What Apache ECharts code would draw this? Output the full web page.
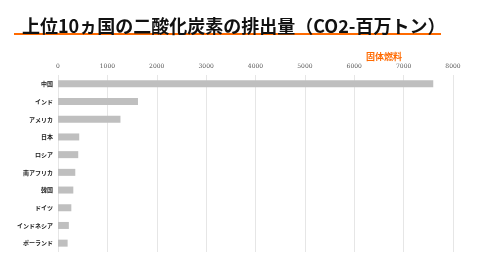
<!DOCTYPE html>
<html>
<head>
<meta charset="utf-8">
<script src="https://cdn.jsdelivr.net/npm/echarts@6/dist/echarts.min.js"></script>
<style>
  html, body { margin: 0; padding: 0; background: #fff; }
  #chart { width: 480px; height: 270px; }
</style>
</head>
<body>
<div id="chart"></div>
<script>
// 国名（上から順）
var countries = ['中国', 'インド', 'アメリカ', '日本', 'ロシア', '南アフリカ', '韓国', 'ドイツ', 'インドネシア', 'ポーランド'];
// 固体燃料 CO2排出量（百万トン）
var solidFuel = [7600, 1620, 1265, 430, 410, 350, 310, 270, 220, 195];
var seriesName = '固体燃料';

var chart = echarts.init(document.getElementById('chart'));
var option = {
  animation: false,
  title: {
    text: '上位10ヵ国の二酸化炭素の排出量（CO2-百万トン）',
    left: 17,
    top: 12,
    textStyle: {
      fontFamily: 'Noto Sans CJK JP',
      fontWeight: 'bold',
      fontSize: 18,
      color: '#111'
    }
  },
  graphic: [{
    type: 'rect',
    shape: { x: 14, y: 33, width: 427, height: 2 },
    style: { fill: '#ff6a00' }
  }],
  legend: {
    data: [{ name: seriesName, icon: 'none' }],
    left: 356,
    top: 45,
    itemWidth: 0,
    itemGap: 0,
    textStyle: {
      fontFamily: 'Noto Sans CJK JP',
      fontWeight: 'bold',
      fontSize: 9,
      color: '#ff6a00'
    }
  },
  grid: { left: 58, right: 27, top: 75, bottom: 18 },
  xAxis: {
    type: 'value',
    position: 'top',
    min: 0,
    max: 8000,
    interval: 1000,
    axisLine: { show: false },
    axisTick: { show: false },
    axisLabel: {
      margin: 6,
      fontSize: 6,
      fontFamily: 'DejaVu Serif',
      color: '#555',
      formatter: function (v) { return String(v); }
    },
    splitLine: { lineStyle: { color: '#e6e6e6', width: 1 } }
  },
  yAxis: {
    type: 'category',
    inverse: true,
    data: countries,
    axisLine: { show: false },
    axisTick: { show: false },
    axisLabel: {
      margin: 5,
      fontSize: 6,
      fontWeight: 'bold',
      fontFamily: 'Noto Sans CJK JP',
      color: '#222'
    }
  },
  series: [{
    name: seriesName,
    type: 'bar',
    data: solidFuel,
    barWidth: 7,
    itemStyle: { color: '#bfbfbf' }
  }]
};
chart.setOption(option);
</script>
</body>
</html>
